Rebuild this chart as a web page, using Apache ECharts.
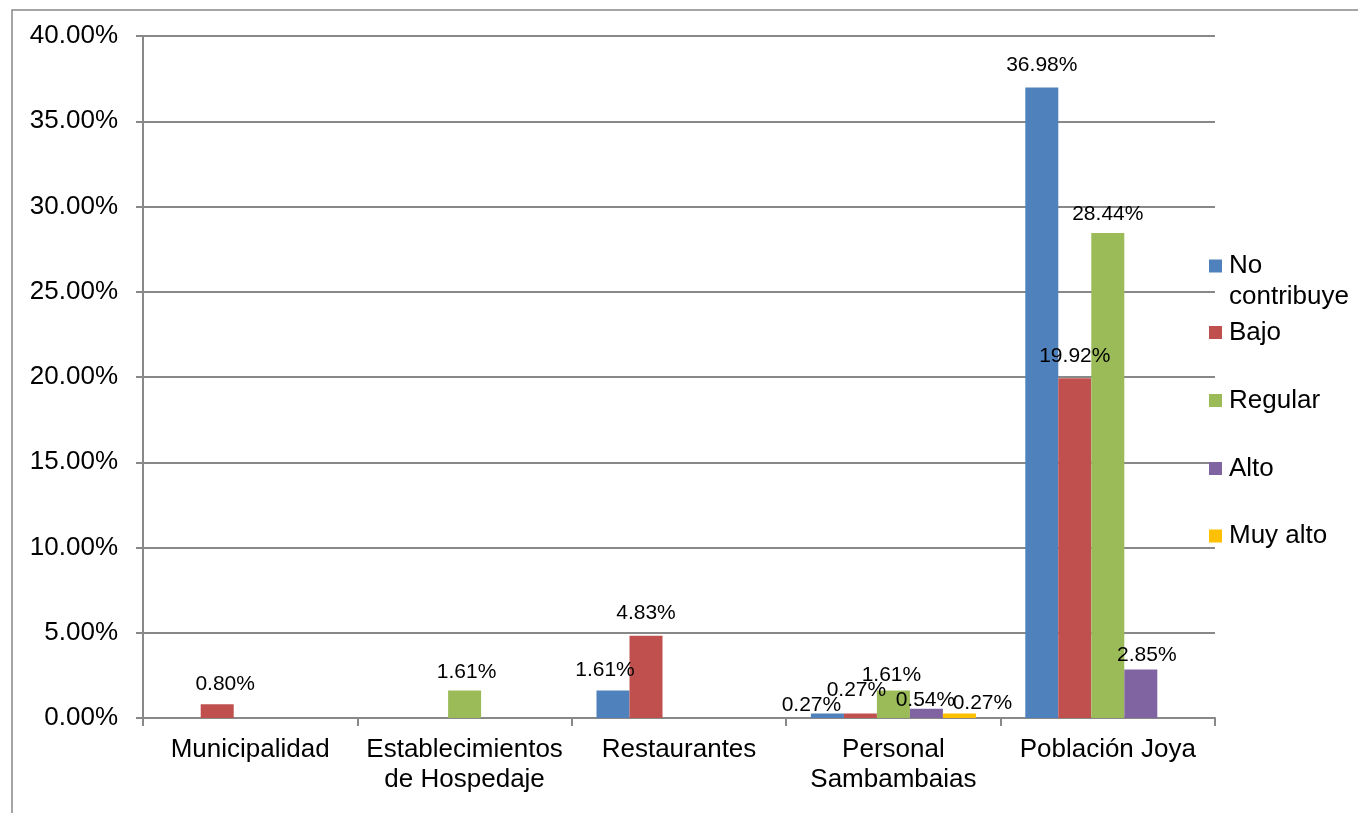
<!DOCTYPE html>
<html>
<head>
<meta charset="utf-8">
<script src="https://cdn.jsdelivr.net/npm/echarts@6/dist/echarts.min.js"></script>
<style>
html,body{margin:0;padding:0;background:#fff;}
#chart{width:1358px;height:813px;}
</style>
</head>
<body>
<div id="chart"></div>
<script>
const categories = ['Municipalidad', 'Establecimientos\nde Hospedaje', 'Restaurantes', 'Personal\nSambambaias', 'Población Joya'];
const seriesNames = ['No contribuye', 'Bajo', 'Regular', 'Alto', 'Muy alto'];
const noContribuye = [null, null, 1.61, 0.27, 36.98];
const bajo = [0.80, null, 4.83, 0.27, 19.92];
const regular = [null, 1.61, null, 1.61, 28.44];
const alto = [null, null, null, 0.54, 2.85];
const muyAlto = [null, null, null, 0.27, null];
const yTicks = [0, 5, 10, 15, 20, 25, 30, 35, 40];

const seriesValues = [noContribuye, bajo, regular, alto, muyAlto];
const colors = ['#4F81BD', '#C0504D', '#9BBB59', '#8064A2', '#FFC000'];

// label nudges (style only): [seriesIndex-categoryIndex] -> [dx, dy]
const labelNudge = {
  '1-0': [8, 2],
  '2-1': [2, 4],
  '0-2': [-8, 2],
  '0-3': [-16, 14],
  '1-3': [-4, -1],
  '2-3': [-2, 7],
  '3-3': [-1, 14],
  '4-3': [23, 12],
  '2-4': [0, 4],
  '3-4': [6, 8]
};

const FONT = 'Liberation Sans, Arial, sans-serif';
const gridColor = '#888888';

const chart = echarts.init(document.getElementById('chart'), null, {renderer: 'canvas'});

const series = seriesValues.map((vals, si) => ({
  name: seriesNames[si],
  type: 'bar',
  barWidth: 33,
  barGap: '0%',
  itemStyle: {color: colors[si]},
  label: {
    show: true,
    position: 'top',
    distance: 12,
    color: '#000',
    fontFamily: FONT,
    fontSize: 21,
    formatter: p => p.value == null ? '' : Number(p.value).toFixed(2) + '%'
  },
  data: vals.map((v, ci) => {
    const nudge = labelNudge[si + '-' + ci];
    if (v == null) return null;
    return nudge ? {value: v, label: {offset: nudge}} : {value: v};
  })
}));

const legendTops = [219.5, 317, 385, 453, 520.5];
const legends = seriesNames.map((n, i) => ({
  data: [n],
  orient: 'vertical',
  left: 1209,
  top: legendTops[i],
  padding: 0,
  itemWidth: 13,
  itemHeight: 13,
  icon: 'rect',
  selectedMode: false,
  formatter: name => name === 'No contribuye' ? '\nNo\ncontribuye' : name,
  textStyle: {
    fontFamily: FONT,
    fontSize: 26,
    color: '#000',
    lineHeight: 31,
    padding: [0, 0, 0, 2]
  }
}));

chart.setOption({
  animation: false,
  backgroundColor: '#fff',
  color: colors,
  grid: {left: 143, right: 143, top: 36, bottom: 95, containLabel: false},
  legend: legends,
  graphic: [{
    type: 'rect',
    shape: {x: 12, y: 10, width: 2000, height: 2000},
    style: {fill: 'none', stroke: gridColor, lineWidth: 1.5},
    silent: true
  }],
  xAxis: {
    type: 'category',
    data: categories,
    axisLine: {show: true, lineStyle: {color: gridColor, width: 2}},
    axisTick: {show: true, length: 8, alignWithLabel: false, lineStyle: {color: gridColor, width: 2}},
    axisLabel: {
      interval: 0,
      margin: 17,
      color: '#000',
      fontFamily: FONT,
      fontSize: 26,
      lineHeight: 30
    }
  },
  yAxis: {
    type: 'value',
    min: yTicks[0],
    max: yTicks[yTicks.length - 1],
    interval: yTicks[1] - yTicks[0],
    axisLine: {show: true, lineStyle: {color: gridColor, width: 2}},
    axisTick: {show: true, length: 7, lineStyle: {color: gridColor, width: 2}},
    splitLine: {show: true, lineStyle: {color: gridColor, width: 2}},
    axisLabel: {
      margin: 25,
      color: '#000',
      fontFamily: FONT,
      fontSize: 26,
      formatter: v => v.toFixed(2) + '%'
    }
  },
  series: series
});
</script>
</body>
</html>
